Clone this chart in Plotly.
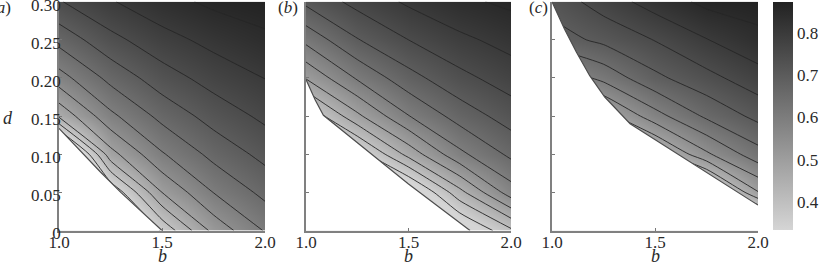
import plotly.graph_objects as go

# ---------------- data ----------------
b_vals = [1.0, 1.25, 1.5, 1.75, 2.0]
d_vals = [0.0, 0.05, 0.10, 0.15, 0.20, 0.25, 0.30]

# rows: d_vals, columns: b_vals
z_a = [
    [-0.20, 0.150, 0.360, 0.515, 0.604],
    [-0.05, 0.301, 0.500, 0.601, 0.664],
    [0.165, 0.481, 0.595, 0.665, 0.715],
    [0.459, 0.588, 0.665, 0.720, 0.761],
    [0.579, 0.665, 0.727, 0.770, 0.801],
    [0.667, 0.735, 0.782, 0.815, 0.841],
    [0.746, 0.796, 0.833, 0.860, 0.872],
]
z_b = [
    [-0.10, 0.000, 0.100, 0.278, 0.390],
    [0.050, 0.150, 0.267, 0.434, 0.576],
    [0.200, 0.320, 0.467, 0.588, 0.661],
    [0.350, 0.4885, 0.598, 0.671, 0.723],
    [0.504, 0.606, 0.682, 0.736, 0.774],
    [0.614, 0.697, 0.750, 0.789, 0.818],
    [0.711, 0.766, 0.808, 0.840, 0.860],
]
z_c = [
    [-0.20, -0.10, 0.050, 0.100, 0.197],
    [-0.05, 0.100, 0.260, 0.310, 0.497],
    [0.100, 0.300, 0.420, 0.541, 0.630],
    [0.300, 0.474, 0.580, 0.659, 0.714],
    [0.550, 0.615, 0.688, 0.7345, 0.779],
    [0.676, 0.712, 0.752, 0.798, 0.836],
    [0.720, 0.773, 0.822, 0.862, 0.872],
]

# boundary of the admissible region (white below/left of it)
bound_a_b = [1.0, 1.1, 1.2, 1.3, 1.4, 1.5]
bound_a_d = [0.134, 0.105, 0.077, 0.050, 0.025, 0.0]
bound_b_b = [1.0, 1.045, 1.085, 1.215, 1.35, 1.5, 1.80]
bound_b_d = [0.198, 0.171, 0.151, 0.1226, 0.093, 0.061, 0.0]
bound_c_b = [1.0, 1.061, 1.118, 1.183, 1.256, 1.353, 1.379, 2.0]
bound_c_d = [0.300, 0.264, 0.234, 0.203, 0.175, 0.1467, 0.140, 0.0333]

level_start, level_end, level_step = 0.35, 0.85, 0.05
z_min, z_max = 0.333, 0.874

x_tickvals = [1.0, 1.5, 2.0]
x_ticktext = ["1.0", "1.5", "2.0"]
y_tickvals = [0.0, 0.05, 0.10, 0.15, 0.20, 0.25, 0.30]
y_ticktext = ["0", "0.05", "0.10", "0.15", "0.20", "0.25", "0.30"]
cbar_tickvals = [0.4, 0.5, 0.6, 0.7, 0.8]
cbar_ticktext = ["0.4", "0.5", "0.6", "0.7", "0.8"]
panel_labels = ["(<i>a</i>)", "(<i>b</i>)", "(<i>c</i>)"]

# ---------------- figure ----------------
W, H = 831, 274
FONT = "Liberation Serif, Times New Roman, DejaVu Serif, serif"
TXT = "#2a2a2a"
FS = 17

panels = [
    (z_a, bound_a_b, bound_a_d),
    (z_b, bound_b_b, bound_b_d),
    (z_c, bound_c_b, bound_c_d),
]
x_px = [(59, 265), (306, 511), (552, 758)]
y_top, y_bot = 1.7, 230.5

fig = go.Figure()
for i, (z, bb, bd) in enumerate(panels):
    sx = "" if i == 0 else str(i + 1)
    fig.add_trace(go.Contour(
        x=b_vals, y=d_vals, z=z, coloraxis="coloraxis",
        contours=dict(start=level_start, end=level_end, size=level_step,
                      coloring="heatmap", showlines=True),
        line=dict(color="#262626", width=0.9, smoothing=0.6),
        xaxis="x" + sx, yaxis="y" + sx, hoverinfo="skip",
    ))
    fig.add_trace(go.Scatter(
        x=bb, y=bd, mode="lines", fill="tozeroy", fillcolor="white",
        line=dict(color="#4d4d4d", width=1.2),
        xaxis="x" + sx, yaxis="y" + sx, hoverinfo="skip", showlegend=False,
    ))

layout = dict(
    width=W, height=H, margin=dict(l=0, r=0, t=0, b=0, autoexpand=False),
    paper_bgcolor="white", plot_bgcolor="white", showlegend=False,
    font=dict(family=FONT, size=FS, color=TXT),
    coloraxis=dict(
        cmin=z_min, cmax=z_max,
        colorscale=[[0.0, "#d5d5d5"], [1.0, "#222222"]],
        colorbar=dict(
            x=773 / W, xanchor="left", thickness=20, thicknessmode="pixels",
            len=(230 - 2) / H, lenmode="fraction", y=(H - 230) / H, yanchor="bottom",
            xpad=0, ypad=0, outlinewidth=0,
            tickvals=cbar_tickvals, ticktext=cbar_ticktext, ticks="",
            tickfont=dict(family=FONT, size=FS, color=TXT),
        ),
    ),
)

ydom = [(H - y_bot) / H, (H - y_top) / H]
for i in range(3):
    sx = "" if i == 0 else str(i + 1)
    xa = dict(
        domain=[x_px[i][0] / W, x_px[i][1] / W], range=[1.0, 2.0],
        anchor="y" + sx, tickvals=x_tickvals, ticktext=x_ticktext,
        ticks="inside", ticklen=3, tickcolor="#777", tickwidth=1,
        showline=True, linecolor="#808080", linewidth=1.5,
        showgrid=False, zeroline=False, fixedrange=True,
        ticklabelstandoff=-5,
        tickfont=dict(family=FONT, size=FS, color=TXT),
    )
    ya = dict(
        domain=ydom, range=[0.0, 0.30], anchor="x" + sx,
        tickvals=y_tickvals, ticktext=y_ticktext,
        ticks="inside", ticklen=3, tickcolor="#777", tickwidth=1,
        showline=True, linecolor="#808080", linewidth=1.5,
        showgrid=False, zeroline=False, fixedrange=True,
        showticklabels=(i == 0), ticklabeloverflow="allow",
        ticklabelshift=3, ticklabelstandoff=-7,
        tickfont=dict(family=FONT, size=FS, color=TXT),
    )
    layout["xaxis" + sx] = xa
    layout["yaxis" + sx] = ya

annotations = []
for i in range(3):
    sx = "" if i == 0 else str(i + 1)
    annotations.append(dict(
        text="<i>b</i>", xref="x" + sx, x=1.5, yref="paper", y=(H - 256) / H,
        xanchor="center", yanchor="middle", showarrow=False,
        font=dict(family=FONT, size=18, color=TXT),
    ))
label_x = [13, 300, 550]
for i in range(3):
    annotations.append(dict(
        text=panel_labels[i], xref="paper", x=label_x[i] / W, yref="paper",
        y=(H - 7) / H, xanchor="right", yanchor="middle", showarrow=False,
        font=dict(family=FONT, size=FS, color=TXT),
    ))
annotations.append(dict(
    text="<i>d</i>", xref="paper", x=8 / W, yref="paper", y=(H - 118) / H,
    xanchor="center", yanchor="middle", showarrow=False,
    font=dict(family=FONT, size=18, color=TXT),
))
layout["annotations"] = annotations

fig.update_layout(**layout)
fig.write_html("out.html")
